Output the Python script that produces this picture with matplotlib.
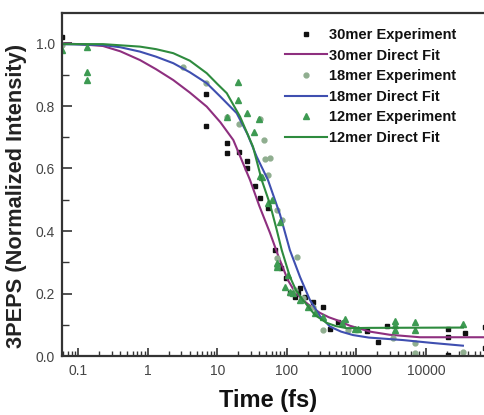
import matplotlib
matplotlib.use("Agg")
import matplotlib.pyplot as plt
from matplotlib.ticker import FixedLocator, LogLocator, MultipleLocator, NullFormatter, FuncFormatter

plt.rcParams['font.family'] = ['Liberation Sans', 'DejaVu Sans']

# 30mer experiment (black squares)
t30 = [0.058, 6.76, 6.76, 13.6, 13.6, 20.4, 26.8, 26.8, 34.7, 40.9, 53.8, 67.1, 77.4, 80.9,
       96.8, 110, 130, 146, 154, 181, 239, 333, 416, 547, 1400, 2060, 2780,
       20900, 20900, 20900, 36400, 70600, 70600]
v30 = [1.022, 0.837, 0.736, 0.681, 0.649, 0.652, 0.625, 0.603, 0.544, 0.505, 0.475, 0.339, 0.291, 0.281,
       0.251, 0.201, 0.19, 0.203, 0.217, 0.19, 0.174, 0.158, 0.086, 0.110, 0.080, 0.046, 0.096,
       0.088, 0.062, 0.003, 0.073, 0.094, 0.025]

# 18mer experiment (grey circles)
t18 = [0.058, 3.22, 6.76, 13.6, 20.4, 40.9, 46.7, 48, 57, 53.8, 71, 84, 138, 71, 71,
       130, 170, 239, 333, 762, 3390, 6950, 6950, 34000]
v18 = [0.995, 0.926, 0.873, 0.764, 0.742, 0.758, 0.691, 0.629, 0.633, 0.579, 0.467, 0.435, 0.318, 0.313, 0.286,
       0.211, 0.185, 0.158, 0.083, 0.083, 0.057, 0.041, 0.009, 0.014]

# 12mer experiment (green triangles)
t12 = [0.058, 0.131, 0.131, 0.131, 13.6, 19.9, 19.9, 26.8, 39.9, 33.5, 43.3, 40.9, 60.4, 53.8,
       79.4, 71, 71, 93.5, 104, 110, 123, 154, 202, 253, 333, 612, 684, 951, 1040,
       3580, 3580, 3580, 6950, 6950, 34000]
v12 = [0.98, 0.99, 0.91, 0.883, 0.766, 0.878, 0.819, 0.777, 0.757, 0.716, 0.574, 0.576, 0.499, 0.489,
       0.43, 0.286, 0.297, 0.222, 0.259, 0.206, 0.201, 0.179, 0.158, 0.137, 0.126, 0.107, 0.117, 0.085, 0.085,
       0.113, 0.099, 0.083, 0.11, 0.083, 0.102]

# direct fits
fit30_t = [0.058, 0.1, 0.225, 0.4, 0.767, 1.3, 2.31, 4, 7, 11, 16.9, 22, 29.4, 40, 56.9, 75,
           103, 130, 170, 230, 298, 400, 519, 800, 1563, 3000, 8200, 70600]
fit30_v = [1.0, 0.998, 0.992, 0.975, 0.947, 0.918, 0.883, 0.843, 0.798, 0.748, 0.691, 0.63, 0.563, 0.48, 0.394, 0.32,
           0.243, 0.205, 0.179, 0.155, 0.138, 0.124, 0.115, 0.097, 0.078, 0.068, 0.060, 0.060]

fit18_t = [0.058, 0.225, 0.4, 0.767, 1.3, 2.31, 4, 7, 11, 18.9, 27, 36.6, 53.3, 79.3, 110, 154,
           214, 298, 416, 600, 891, 1500, 4670, 12000, 34000]
fit18_v = [0.998, 0.995, 0.988, 0.974, 0.958, 0.937, 0.908, 0.873, 0.83, 0.777, 0.71, 0.638, 0.563, 0.453, 0.339, 0.253,
           0.179, 0.128, 0.094, 0.078, 0.067, 0.059, 0.051, 0.042, 0.033]

fit12_t = [0.058, 0.225, 0.767, 1.3, 2.31, 4, 7, 10, 13.6, 21.1, 32.4, 43.3, 56.9, 70, 84, 110,
           135, 170, 253, 373, 500, 722, 1500, 34000]
fit12_v = [0.998, 0.998, 0.990, 0.982, 0.969, 0.945, 0.905, 0.87, 0.841, 0.766, 0.670, 0.563, 0.486, 0.41, 0.339, 0.254,
           0.21, 0.179, 0.131, 0.106, 0.096, 0.089, 0.09, 0.091]

x_ticks = [0.1, 1, 10, 100, 1000, 10000]

c30 = '#8e2f7f'
c18 = '#3f4fb0'
c12 = '#2e8b3e'

fig = plt.figure(figsize=(4.85, 4.15), dpi=100)
ax = fig.add_axes([62/485, 1-356/415, (495-62)/485, (356-13)/415])

ax.plot(t30, v30, 's', color='#111111', ms=3.5, label='30mer Experiment')
ax.plot(fit30_t, fit30_v, '-', color=c30, lw=1.5, label='30mer Direct Fit')
ax.plot(t18, v18, 'o', color='#8fae8f', ms=3.5, label='18mer Experiment')
ax.plot(fit18_t, fit18_v, '-', color=c18, lw=1.5, label='18mer Direct Fit')
ax.plot(t12, v12, '^', color='#3d9a52', ms=4, label='12mer Experiment')
ax.plot(fit12_t, fit12_v, '-', color=c12, lw=1.5, label='12mer Direct Fit')

ax.set_xscale('log')
ax.set_xlim(0.0579, 98400)
ax.set_ylim(0, 1.0976)

ax.xaxis.set_major_locator(FixedLocator(x_ticks))
ax.xaxis.set_minor_locator(LogLocator(base=10, subs=range(2, 10), numticks=20))
ax.xaxis.set_minor_formatter(NullFormatter())
ax.xaxis.set_major_formatter(FuncFormatter(lambda v, p: '%g' % v if v < 1 else '%d' % v))
ax.yaxis.set_major_locator(MultipleLocator(0.2))
ax.yaxis.set_minor_locator(MultipleLocator(0.1))
ax.yaxis.set_major_formatter(FuncFormatter(lambda v, p: '%.1f' % v))

ax.tick_params(axis='x', which='major', direction='in', length=6, width=1.2, pad=6,
               labelsize=10, labelcolor='#444444', color='#333333')
ax.tick_params(axis='x', which='minor', direction='in', length=3.5, width=1.0, color='#333333')
ax.tick_params(axis='y', which='major', direction='in', length=7, width=1.2, pad=5,
               labelsize=10, labelcolor='#444444', color='#333333')
ax.tick_params(axis='y', which='minor', direction='in', length=5, width=1.0, color='#333333')
for s in ax.spines.values():
    s.set_linewidth(1.6)
    s.set_color('#333333')

fig.text(17/485, 1-196/415, '3PEPS (Normalized Intensity)', rotation=90, ha='center', va='center',
         fontsize=15.7, fontweight='bold', color='#222222')
fig.text(268/485, 1-400/415, 'Time (fs)', ha='center', va='center',
         fontsize=17, fontweight='bold', color='#111111')

leg = ax.legend(loc='upper left', bbox_to_anchor=(285/485, 1-28/415), bbox_transform=fig.transFigure,
                frameon=False, prop={'weight': 'bold', 'size': 10.5}, handlelength=2.9,
                handletextpad=0.15, labelspacing=0.45, borderaxespad=0, borderpad=0)
for txt in leg.get_texts():
    txt.set_color('#111111')

fig.savefig('out.png', dpi=100)
